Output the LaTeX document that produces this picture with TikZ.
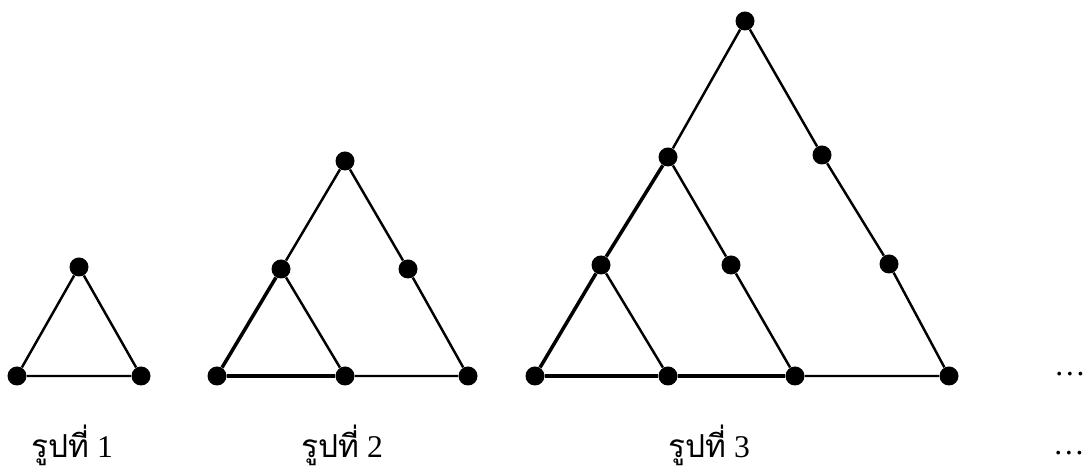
\documentclass[tikz,border=0pt]{standalone}
\usepackage{fontspec}
\setmainfont{Liberation Serif}
\newfontfamily\thaifont[Script=Thai]{Loma}
\usetikzlibrary{positioning}

\begin{document}
\begin{tikzpicture}[
  vtx/.style={circle, fill=black, inner sep=0pt, minimum size=0.38cm},
  edge/.style={line width=1.4pt},
  dbl/.style={line width=2pt},
  caption/.style={anchor=base, font=\fontsize{18}{20}\selectfont}
]
\useasboundingbox (0,0) rectangle (21.78,9.5);

% figure 1
\node[vtx] (a1) at (1.58, 4.16) {};
\node[vtx] (a2) at (0.34, 1.98) {};
\node[vtx] (a3) at (2.82, 1.98) {};
\draw[edge] (a1) -- (a2) -- (a3) -- (a1);

% figure 2
\node[vtx] (b1) at (6.90, 6.28) {};
\node[vtx] (b2) at (5.62, 4.12) {};
\node[vtx] (b3) at (8.16, 4.12) {};
\node[vtx] (b4) at (4.34, 1.98) {};
\node[vtx] (b5) at (6.90, 1.98) {};
\node[vtx] (b6) at (9.36, 1.98) {};
\draw[edge] (b1) -- (b2);
\draw[dbl] (b2) -- (b4) -- (b5);
\draw[edge] (b2) -- (b5);
\draw[edge] (b5) -- (b6) -- (b3) -- (b1);

% figure 3
\node[vtx] (c1) at (14.90, 9.08) {};
\node[vtx] (c2) at (13.36, 6.36) {};
\node[vtx] (c3) at (16.44, 6.40) {};
\node[vtx] (c4) at (12.02, 4.20) {};
\node[vtx] (c5) at (14.62, 4.20) {};
\node[vtx] (c6) at (17.78, 4.22) {};
\node[vtx] (c7) at (10.70, 1.98) {};
\node[vtx] (c8) at (13.36, 1.98) {};
\node[vtx] (c9) at (15.90, 1.98) {};
\node[vtx] (c10) at (18.98, 1.98) {};
\draw[edge] (c1) -- (c2);
\draw[dbl] (c2) -- (c4) -- (c7) -- (c8) -- (c9);
\draw[edge] (c4) -- (c8);
\draw[edge] (c2) -- (c5) -- (c9);
\draw[edge] (c9) -- (c10) -- (c6) -- (c3) -- (c1);

% captions
\node[caption] (n1) at (1.44, 0.34) {{\thaifont รูปที่} 1};
\node[caption] (n2) at (6.84, 0.34) {{\thaifont รูปที่} 2};
\node[caption] (n3) at (14.18, 0.34) {{\thaifont รูปที่} 3};
\node[caption] (d1) at (21.40, 1.98) {\dots};
\node[caption] (d2) at (21.38, 0.40) {\dots};
\end{tikzpicture}
\end{document}
